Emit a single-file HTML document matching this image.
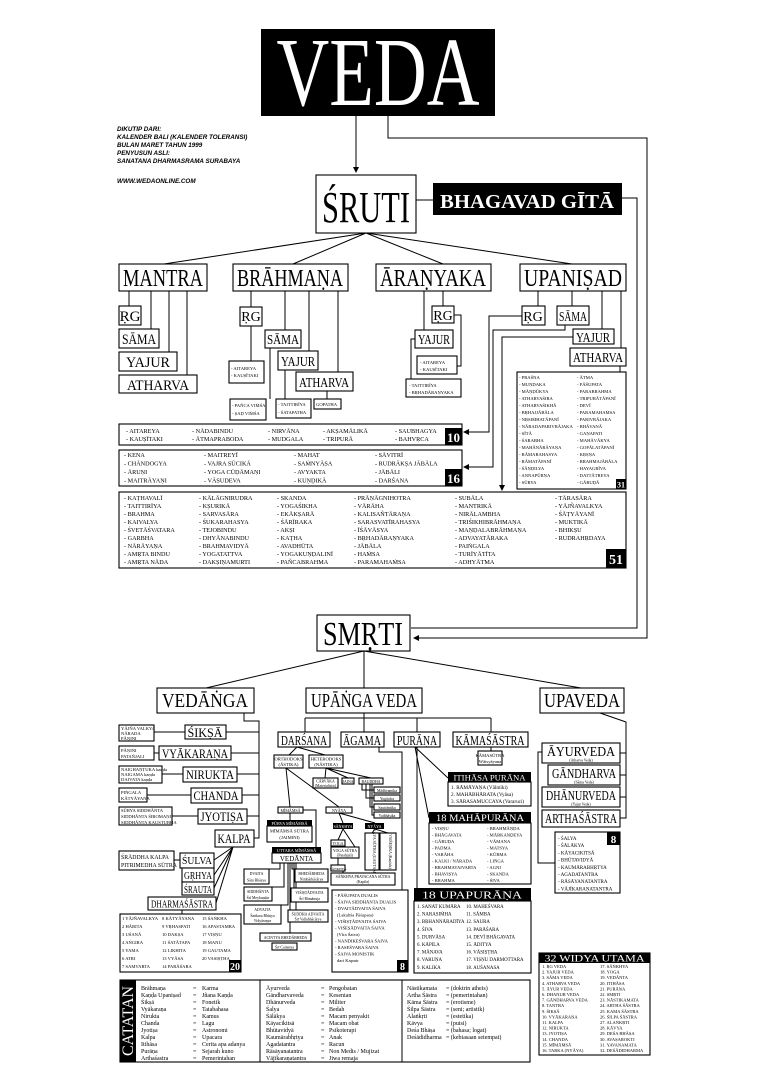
<!DOCTYPE html>
<html><head><meta charset="utf-8">
<style>
html,body{margin:0;padding:0;background:#fff;}
svg{display:block;font-family:"Liberation Serif",serif;}
.bx{fill:#fff;stroke:#000;stroke-width:1.1}
.bk{fill:#000}
.ln{stroke:#000;stroke-width:1;fill:none}
.s{font-size:6.2px}
.xs{font-size:4.6px}
.w{fill:#fff}
</style></head><body>
<svg width="768" height="1087" viewBox="0 0 768 1087" xmlns="http://www.w3.org/2000/svg">
<defs><marker id="a" markerWidth="6" markerHeight="6" refX="5" refY="3" orient="auto"><path d="M0,0L6,3L0,6z"/></marker></defs>

<!-- VEDA -->
<rect x="261" y="29" width="234" height="87" class="bk"/>
<text x="378" y="105" font-size="98" class="w" text-anchor="middle" textLength="203" lengthAdjust="spacingAndGlyphs">VEDA</text>
<g font-family="Liberation Sans" font-weight="bold" font-style="italic" font-size="6.3">
<text x="117" y="131">DIKUTIP DARI:</text>
<text x="117" y="139">KALENDER BALI (KALENDER TOLERANSI)</text>
<text x="117" y="147">BULAN MARET TAHUN 1999</text>
<text x="117" y="155">PENYUSUN ASLI:</text>
<text x="117" y="163">SANATANA DHARMASRAMA SURABAYA</text>
<text x="117" y="183">WWW.WEDAONLINE.COM</text>
</g>
<path class="ln" stroke-width="1.5" d="M356,116V172" marker-end="url(#a)"/>
<path class="ln" stroke-width="1.5" d="M388,116V138H647V638H414" marker-end="url(#a)"/>
<path class="ln" stroke-width="1" d="M622,198H637V628H411"/>

<!-- SRUTI -->
<rect x="316" y="175" width="100" height="58" class="bx"/>
<text x="366" y="222" font-size="44" text-anchor="middle" textLength="88" lengthAdjust="spacingAndGlyphs">ŚRUTI</text>
<path class="ln" d="M416,200H433"/>
<rect x="433" y="183" width="189" height="32" class="bk"/>
<text x="527" y="208" font-size="20" font-weight="bold" class="w" text-anchor="middle" textLength="174" lengthAdjust="spacingAndGlyphs">BHAGAVAD GĪTĀ</text>
<path class="ln" d="M366,233L164,264M366,233L293,264M366,233L443,264M366,233L572,264"/>

<!-- level 1 -->
<g font-size="24">
<rect x="119" y="264" width="88" height="27" class="bx"/><text x="163" y="286" text-anchor="middle" textLength="80" lengthAdjust="spacingAndGlyphs">MANTRA</text>
<rect x="233" y="264" width="115" height="27" class="bx"/><text x="290" y="286" text-anchor="middle" textLength="106" lengthAdjust="spacingAndGlyphs">BRĀHMAṆA</text>
<rect x="376" y="264" width="115" height="27" class="bx"/><text x="433" y="286" text-anchor="middle" textLength="106" lengthAdjust="spacingAndGlyphs">ĀRAṆYAKA</text>
<rect x="520" y="264" width="106" height="27" class="bx"/><text x="573" y="286" text-anchor="middle" textLength="98" lengthAdjust="spacingAndGlyphs">UPANIṢAD</text>
</g>

<!-- mantra -->
<path class="ln" d="M129,291V306M151,291V329M169,291V352M187,291V375"/>
<g font-size="15">
<rect x="119" y="306" width="22" height="19" class="bx"/><text x="130" y="321" text-anchor="middle">ṚG</text>
<rect x="119" y="329" width="40" height="19" class="bx"/><text x="139" y="344" text-anchor="middle" textLength="34" lengthAdjust="spacingAndGlyphs">SĀMA</text>
<rect x="119" y="352" width="58" height="19" class="bx"/><text x="148" y="367" text-anchor="middle" textLength="44" lengthAdjust="spacingAndGlyphs">YAJUR</text>
<rect x="119" y="375" width="78" height="18" class="bx"/><text x="158" y="390" text-anchor="middle" textLength="62" lengthAdjust="spacingAndGlyphs">ATHARVA</text>
</g>

<!-- brahmana -->
<path class="ln" d="M251,291V307M285,291V330M309,291V351M338,291V372M251,326V361M270,348V399M285,370V399M327,391V399"/>
<g font-size="14">
<rect x="240" y="307" width="22" height="19" class="bx"/><text x="251" y="321" text-anchor="middle">ṚG</text>
<rect x="265" y="330" width="36" height="18" class="bx"/><text x="283" y="344" text-anchor="middle" textLength="32" lengthAdjust="spacingAndGlyphs">SĀMA</text>
<rect x="278" y="351" width="40" height="19" class="bx"/><text x="298" y="366" text-anchor="middle" textLength="34" lengthAdjust="spacingAndGlyphs">YAJUR</text>
<rect x="296" y="372" width="57" height="19" class="bx"/><text x="324" y="387" text-anchor="middle" textLength="50" lengthAdjust="spacingAndGlyphs">ATHARVA</text>
</g>
<g class="xs">
<rect x="229" y="361" width="35" height="22" class="bx"/><text x="231" y="370">- AITAREYA</text><text x="231" y="377">- KAUṢĪTAKI</text>
<rect x="230" y="399" width="36" height="21" class="bx"/><text x="232" y="407">- PAÑCA VIṀŚA</text><text x="232" y="415">- ṢAḌ VIṀŚA</text>
<rect x="276" y="399" width="35" height="19" class="bx"/><text x="278" y="406">- TAITTIRĪYA</text><text x="278" y="414">- ŚATAPATHA</text>
<rect x="314" y="399" width="27" height="10" class="bx"/><text x="316" y="406">GOPATHA</text>
</g>

<!-- aranyaka -->
<path class="ln" d="M443,291V306M424,291V330M454,315H461V366H457M415,339H411V379"/>
<g font-size="14">
<rect x="432" y="306" width="22" height="17" class="bx"/><text x="443" y="320" text-anchor="middle">ṚG</text>
<rect x="415" y="330" width="38" height="18" class="bx"/><text x="434" y="344" text-anchor="middle" textLength="32" lengthAdjust="spacingAndGlyphs">YAJUR</text>
</g>
<g class="xs">
<rect x="417" y="356" width="40" height="18" class="bx"/><text x="420" y="364">- AITAREYA</text><text x="420" y="371">- KAUṢĪTAKI</text>
<rect x="406" y="379" width="55" height="18" class="bx"/><text x="409" y="387">- TAITTIRĪYA</text><text x="409" y="394">- BṚHADĀRAṆYAKA</text>
</g>

<!-- upanisad -->
<path class="ln" d="M538,291V306M572,291V306M602,291V329M621,291V348M620,366V372"/>
<g font-size="14">
<rect x="522" y="306" width="23" height="19" class="bx"/><text x="533" y="321" text-anchor="middle">ṚG</text>
<rect x="557" y="306" width="32" height="19" class="bx"/><text x="573" y="321" text-anchor="middle" textLength="28" lengthAdjust="spacingAndGlyphs">SĀMA</text>
<rect x="573" y="329" width="41" height="15" class="bx"/><text x="593" y="342" text-anchor="middle" textLength="34" lengthAdjust="spacingAndGlyphs">YAJUR</text>
<rect x="570" y="348" width="56" height="18" class="bx"/><text x="598" y="362" text-anchor="middle" textLength="50" lengthAdjust="spacingAndGlyphs">ATHARVA</text>
</g>
<path class="ln" d="M522,316H489V432H464" marker-end="url(#a)"/>
<path class="ln" d="M565,325V330H493V467H464" marker-end="url(#a)"/>
<path class="ln" d="M573,337H502V490" marker-end="url(#a)"/>

<!-- 31 box -->
<rect x="517" y="372" width="109" height="117" class="bx"/>
<g class="xs">
<text x="519" y="379">- PRAŚNA</text><text x="519" y="386">- MUṆḌAKA</text><text x="519" y="393">- MĀṆḌŪKYA</text><text x="519" y="400">- ATHARVAŚIRA</text><text x="519" y="407">- ATHARVAŚIKHĀ</text><text x="519" y="414">- BṚHAJJĀBĀLA</text><text x="519" y="421">- NṚSIṀHATĀPANĪ</text><text x="519" y="428">- NĀRADAPARIVRĀJAKA</text><text x="519" y="435">- SĪTĀ</text><text x="519" y="442">- ŚARABHA</text><text x="519" y="449">- MAHĀNĀRĀYAṆA</text><text x="519" y="456">- RĀMARAHASYA</text><text x="519" y="463">- RĀMATĀPANĪ</text><text x="519" y="470">- ŚĀṆḌILYA</text><text x="519" y="477">- ANNAPŪRṆA</text><text x="519" y="484">- SŪRYA</text>
<text x="577" y="379">- ĀTMA</text><text x="577" y="386">- PĀŚUPATA</text><text x="577" y="393">- PARABRAHMA</text><text x="577" y="400">- TRIPURĀTĀPANĪ</text><text x="577" y="407">- DEVĪ</text><text x="577" y="414">- PARAMAHAṀSA</text><text x="577" y="421">- PARIVRĀJAKA</text><text x="577" y="428">- BHĀVANĀ</text><text x="577" y="435">- GAṆAPATI</text><text x="577" y="442">- MAHĀVĀKYA</text><text x="577" y="449">- GOPĀLATĀPANĪ</text><text x="577" y="456">- KṚṢṆA</text><text x="577" y="463">- BRAHMAJĀBĀLA</text><text x="577" y="470">- HAYAGRĪVA</text><text x="577" y="477">- DATTĀTREYA</text><text x="577" y="484">- GĀRUḌĀ</text>
</g>
<rect x="616" y="479" width="10" height="10" class="bk"/><text x="621" y="487.5" font-size="8" font-weight="bold" class="w" text-anchor="middle">31</text>

<!-- 10 box -->
<rect x="119" y="424" width="343" height="21" class="bx"/>
<g class="s">
<text x="126" y="433">- AITAREYA</text><text x="126" y="441">- KAUṢĪTAKI</text>
<text x="192" y="433">- NĀDABINDU</text><text x="192" y="441">- ĀTMAPRABODA</text>
<text x="268" y="433">- NIRVĀNA</text><text x="268" y="441">- MUDGALA</text>
<text x="323" y="433">- AKṢAMĀLIKĀ</text><text x="323" y="441">- TRIPURĀ</text>
<text x="395" y="433">- SAUBHAGYA</text><text x="395" y="441">- BAHVṚCA</text>
</g>
<rect x="445" y="428" width="17" height="17" class="bk"/><text x="453.5" y="442" font-size="13" font-weight="bold" class="w" text-anchor="middle">10</text>

<!-- 16 box -->
<rect x="119" y="450" width="343" height="36" class="bx"/>
<g class="s">
<text x="124" y="457">- KENA</text><text x="124" y="465.5">- CHĀNDOGYA</text><text x="124" y="474">- ĀRUṆI</text><text x="124" y="482.5">- MAITRĀYAṆI</text>
<text x="204" y="457">- MAITREYĪ</text><text x="204" y="465.5">- VAJRA SŪCIKĀ</text><text x="204" y="474">- YOGA CŪḌĀMAṆI</text><text x="204" y="482.5">- VĀSUDEVA</text>
<text x="294" y="457">- MAHAT</text><text x="294" y="465.5">- SAṀNYĀSA</text><text x="294" y="474">- AVYAKTA</text><text x="294" y="482.5">- KUṆḌIKĀ</text>
<text x="375" y="457">- SĀVITRĪ</text><text x="375" y="465.5">- RUDRĀKṢA JĀBĀLA</text><text x="375" y="474">- JĀBĀLI</text><text x="375" y="482.5">- DARŚANA</text>
</g>
<rect x="445" y="469" width="17" height="17" class="bk"/><text x="453.5" y="483" font-size="13" font-weight="bold" class="w" text-anchor="middle">16</text>

<!-- 51 box -->
<rect x="119" y="492" width="507" height="76" class="bx"/>
<g class="s">
<text x="124" y="500">- KAṬHAVALĪ</text><text x="124" y="508">- TAITTIRĪYA</text><text x="124" y="516">- BRAHMA</text><text x="124" y="524">- KAIVALYA</text><text x="124" y="532">- ŚVETĀŚVATARA</text><text x="124" y="540">- GARBHA</text><text x="124" y="548">- NĀRĀYAṆA</text><text x="124" y="556">- AMṚTA BINDU</text><text x="124" y="564">- AMṚTA NĀDA</text>
<text x="199" y="500">- KĀLĀGNIRUDRA</text><text x="199" y="508">- KṢURIKĀ</text><text x="199" y="516">- SARVASĀRA</text><text x="199" y="524">- ŚUKARAHASYA</text><text x="199" y="532">- TEJOBINDU</text><text x="199" y="540">- DHYĀNABINDU</text><text x="199" y="548">- BRAHMAVIDYĀ</text><text x="199" y="556">- YOGATATTVA</text><text x="199" y="564">- DAKṢIṆAMURTI</text>
<text x="277" y="500">- SKANDA</text><text x="277" y="508">- YOGAŚIKHA</text><text x="277" y="516">- EKĀKṢARĀ</text><text x="277" y="524">- ŚĀRĪRAKA</text><text x="277" y="532">- AKṢI</text><text x="277" y="540">- KAṬHA</text><text x="277" y="548">- AVADHŪTA</text><text x="277" y="556">- YOGAKUṆḌALINĪ</text><text x="277" y="564">- PAÑCABRAHMA</text>
<text x="354" y="500">- PRĀṆĀGNIHOTRA</text><text x="354" y="508">- VĀRĀHA</text><text x="354" y="516">- KALISAÑTĀRAṆA</text><text x="354" y="524">- SARASVATĪRAHASYA</text><text x="354" y="532">- ĪŚĀVĀSYA</text><text x="354" y="540">- BṚHADĀRAṆYAKA</text><text x="354" y="548">- JĀBĀLA</text><text x="354" y="556">- HAṀSA</text><text x="354" y="564">- PARAMAHAṀSA</text>
<text x="455" y="500">- SUBĀLA</text><text x="455" y="508">- MANTRIKĀ</text><text x="455" y="516">- NIRĀLAMBHA</text><text x="455" y="524">- TRIŚIKHIBRĀHMAṆA</text><text x="455" y="532">- MAṆḌALABRĀHMAṆA</text><text x="455" y="540">- ADVAYATĀRAKA</text><text x="455" y="548">- PAIṄGALA</text><text x="455" y="556">- TURĪYĀTĪTA</text><text x="455" y="564">- ADHYĀTMA</text>
<text x="555" y="500">- TĀRASĀRA</text><text x="555" y="508">- YĀJÑAVALKYA</text><text x="555" y="516">- ŚĀṬYĀYANĪ</text><text x="555" y="524">- MUKTIKĀ</text><text x="555" y="532">- BHIKṢU</text><text x="555" y="540">- RUDRAHṚDAYA</text>
</g>
<rect x="606" y="549" width="20" height="19" class="bk"/><text x="616" y="564" font-size="14" font-weight="bold" class="w" text-anchor="middle">51</text>

<!-- SMRTI -->
<rect x="317" y="615" width="93" height="36" class="bx"/>
<text x="363" y="645" font-size="34" text-anchor="middle" textLength="80" lengthAdjust="spacingAndGlyphs">SMṚTI</text>
<path class="ln" d="M364,651L206,688M364,651V688M364,651L581,688"/>
<g font-size="20">
<rect x="157" y="688" width="97" height="25" class="bx"/><text x="205" y="707" text-anchor="middle" textLength="86" lengthAdjust="spacingAndGlyphs">VEDĀṄGA</text>
<rect x="306" y="688" width="116" height="25" class="bx"/><text x="364" y="707" text-anchor="middle" textLength="106" lengthAdjust="spacingAndGlyphs">UPĀṄGA VEDA</text>
<rect x="540" y="688" width="84" height="25" class="bx"/><text x="582" y="707" text-anchor="middle" textLength="76" lengthAdjust="spacingAndGlyphs">UPAVEDA</text>
</g>

<!-- vedanga -->
<path class="ln" d="M244,713V721H259V838H254M259,732H226M259,753H231M259,774H237M259,795H242M259,816H247"/>
<path class="ln" d="M154,732H185M154,753H159M162,774H183M147,795H191M172,816H198M174,860H180"/>
<path class="ln" d="M233,847L214,860M233,847L214,875M233,847L214,888M233,847L216,903M182,910V914"/>
<g font-size="13">
<rect x="185" y="725" width="41" height="14" class="bx"/><text x="205" y="737" text-anchor="middle" textLength="35" lengthAdjust="spacingAndGlyphs">ŚIKṢĀ</text>
<rect x="159" y="746" width="72" height="14" class="bx"/><text x="195" y="758" text-anchor="middle" textLength="66" lengthAdjust="spacingAndGlyphs">VYĀKARAṆA</text>
<rect x="183" y="767" width="54" height="15" class="bx"/><text x="210" y="779" text-anchor="middle" textLength="48" lengthAdjust="spacingAndGlyphs">NIRUKTA</text>
<rect x="191" y="788" width="51" height="15" class="bx"/><text x="216" y="800" text-anchor="middle" textLength="45" lengthAdjust="spacingAndGlyphs">CHANDA</text>
<rect x="198" y="809" width="49" height="15" class="bx"/><text x="222" y="821" text-anchor="middle" textLength="43" lengthAdjust="spacingAndGlyphs">JYOTIṢA</text>
<rect x="215" y="830" width="39" height="17" class="bx"/><text x="234" y="843" text-anchor="middle" textLength="33" lengthAdjust="spacingAndGlyphs">KALPA</text>
</g>
<g font-size="11">
<rect x="180" y="853" width="34" height="15" class="bx"/><text x="197" y="864" text-anchor="middle" textLength="30" lengthAdjust="spacingAndGlyphs">ŚULVA</text>
<rect x="182" y="868" width="32" height="14" class="bx"/><text x="198" y="879" text-anchor="middle" textLength="28" lengthAdjust="spacingAndGlyphs">GṚHYA</text>
<rect x="182" y="882" width="32" height="13" class="bx"/><text x="198" y="893" text-anchor="middle" textLength="28" lengthAdjust="spacingAndGlyphs">ŚRAUTA</text>
<rect x="148" y="897" width="68" height="13" class="bx"/><text x="182" y="907.5" text-anchor="middle" textLength="62" lengthAdjust="spacingAndGlyphs">DHARMAŚĀSTRA</text>
</g>
<g class="xs">
<rect x="119" y="725" width="35" height="16" class="bx"/><text x="121" y="730">YĀJÑA VALKYA</text><text x="121" y="735">NĀRADA</text><text x="121" y="740">PĀṆINI</text>
<rect x="119" y="746" width="35" height="14" class="bx"/><text x="121" y="752">PĀṆINI</text><text x="121" y="758">PATAÑJALI</text>
<rect x="119" y="766" width="43" height="17" class="bx"/><text x="121" y="771">NAIGHAṆṬUKA kaṇḍa</text><text x="121" y="776">NAIGAMA kaṇḍa</text><text x="121" y="781">DAIVATA kaṇḍa</text>
<rect x="119" y="788" width="28" height="14" class="bx"/><text x="121" y="794">PIṄGALA</text><text x="121" y="800">KĀTYĀYANA</text>
<rect x="119" y="807" width="53" height="18" class="bx"/><text x="121" y="812">SŪRYA SIDDHĀNTA</text><text x="121" y="818">SIDDHĀNTA ŚIROMAṆI</text><text x="121" y="824">SIDDHĀNTA KAUSTUBHA</text>
</g>
<rect x="119" y="851" width="55" height="19" class="bx"/>
<text x="121" y="859" font-size="5.8">ŚRĀDDHA KALPA</text><text x="121" y="867" font-size="5.8">PITRIMEDHA SŪTRA</text>

<!-- 20 box -->
<rect x="120" y="914" width="121" height="58" class="bx"/>
<g class="xs">
<text x="122" y="920">1 YĀJÑAVALKYA</text><text x="122" y="928">2 HĀRITA</text><text x="122" y="936">3 UŚANĀ</text><text x="122" y="944">4 AṄGIRA</text><text x="122" y="952">5 YAMA</text><text x="122" y="960">6 ATRI</text><text x="122" y="968">7 SAMVARTA</text>
<text x="162" y="920">8 KĀTYĀYANA</text><text x="162" y="928">9 VṚHASPATI</text><text x="162" y="936">10 DAKṢA</text><text x="162" y="944">11 ŚATĀTAPA</text><text x="162" y="952">12 LIKHITA</text><text x="162" y="960">13 VYĀSA</text><text x="162" y="968">14 PARĀŚARA</text>
<text x="202" y="920">15 ŚAṄKHA</text><text x="202" y="928">16 APASTAMBA</text><text x="202" y="936">17 VIṢṆU</text><text x="202" y="944">18 MANU</text><text x="202" y="952">19 GAUTAMA</text><text x="202" y="960">20 VASIṢṬHA</text>
</g>
<rect x="229" y="960" width="12" height="12" class="bk"/><text x="235" y="970" font-size="10" font-weight="bold" class="w" text-anchor="middle">20</text>

<!-- upanga -->
<path class="ln" d="M364,713V718M305,718H491M305,718V732M364,718V732M417,718V732M491,718V732"/>
<g font-size="14">
<rect x="278" y="732" width="52" height="15" class="bx"/><text x="304" y="745" text-anchor="middle" textLength="46" lengthAdjust="spacingAndGlyphs">DARŚANA</text>
<rect x="341" y="732" width="43" height="15" class="bx"/><text x="362" y="745" text-anchor="middle" textLength="38" lengthAdjust="spacingAndGlyphs">ĀGAMA</text>
<rect x="394" y="732" width="46" height="15" class="bx"/><text x="417" y="745" text-anchor="middle" textLength="40" lengthAdjust="spacingAndGlyphs">PURĀṆA</text>
<rect x="453" y="732" width="75" height="15" class="bx"/><text x="490" y="745" text-anchor="middle" textLength="69" lengthAdjust="spacingAndGlyphs">KĀMAŚĀSTRA</text>
</g>
<path class="ln" d="M491,747V751M379,747V752H402V890M415,747L448,778M415,747L429,818M417,747V888"/>
<rect x="478" y="751" width="24" height="14" class="bx"/>
<text x="490" y="757" class="xs" text-anchor="middle">KĀMASŪTRA</text><text x="490" y="763" class="xs" text-anchor="middle">Wātsyāyana</text>

<!-- itihasa -->
<rect x="448" y="772" width="83" height="10" class="bk"/><text x="489.5" y="780.5" font-size="8" class="w" text-anchor="middle" textLength="72" lengthAdjust="spacingAndGlyphs">ITIHĀSA PURĀṆA</text>
<rect x="448" y="782" width="83" height="24" class="bx"/>
<g font-size="5.2"><text x="451" y="789">1. RĀMĀYAṆA (Vālmīki)</text><text x="451" y="796">2. MAHĀBHĀRATA (Vyāsa)</text><text x="451" y="803">3. SĀRASAMUCCAYA (Vararuci)</text></g>
<!-- mahapurana -->
<rect x="429" y="812" width="102" height="11" class="bk"/><text x="480" y="821" font-size="9" class="w" text-anchor="middle" textLength="88" lengthAdjust="spacingAndGlyphs">18 MAHĀPURĀṆA</text>
<rect x="429" y="823" width="102" height="61" class="bx"/>
<g class="xs">
<text x="432" y="830">- VIṢṆU</text><text x="432" y="836.5">- BHĀGAVATA</text><text x="432" y="843">- GĀRUḌA</text><text x="432" y="849.5">- PADMA</text><text x="432" y="856">- VARĀHA</text><text x="432" y="862.5">- KALKI / NĀRADA</text><text x="432" y="869">- BRAHMAVAIVARTA</text><text x="432" y="875.5">- BHAVIṢYA</text><text x="432" y="882">- BRAHMA</text>
<text x="487" y="830">- BRAHMĀṆḌA</text><text x="487" y="836.5">- MĀRKAṆḌEYA</text><text x="487" y="843">- VĀMANA</text><text x="487" y="849.5">- MATSYA</text><text x="487" y="856">- KŪRMA</text><text x="487" y="862.5">- LIṄGA</text><text x="487" y="869">- AGNI</text><text x="487" y="875.5">- SKANDA</text><text x="487" y="882">- ŚIVA</text>
</g>
<!-- upapurana -->
<rect x="414" y="888" width="117" height="13" class="bk"/><text x="472" y="898.5" font-size="10" class="w" text-anchor="middle" textLength="100" lengthAdjust="spacingAndGlyphs">18 UPAPURĀṆA</text>
<rect x="414" y="901" width="117" height="72" class="bx"/>
<g font-size="4.9">
<text x="417" y="908">1. SANAT KUMĀRA</text><text x="417" y="915.6">2. NARASIṀHA</text><text x="417" y="923.2">3. BṚHANNĀRADĪYA</text><text x="417" y="930.8">4. ŚIVA</text><text x="417" y="938.4">5. DURVĀSA</text><text x="417" y="946">6. KĀPILA</text><text x="417" y="953.6">7. MĀNAVA</text><text x="417" y="961.2">8. VARUṆA</text><text x="417" y="968.8">9. KALIKA</text>
<text x="466" y="908">10. MAHEŚVARA</text><text x="466" y="915.6">11. SĀMBA</text><text x="466" y="923.2">12. SAURA</text><text x="466" y="930.8">13. PARĀŚARA</text><text x="466" y="938.4">14. DEVĪ BHĀGAVATA</text><text x="466" y="946">15. ĀDITYA</text><text x="466" y="953.6">16. VĀSIṢṬHA</text><text x="466" y="961.2">17. VIṢṆU DARMOTTARA</text><text x="466" y="968.8">18. AUŚANASA</text>
</g>

<!-- agama 8 box -->
<rect x="332" y="890" width="76" height="82" class="bx"/>
<g class="xs">
<text x="335" y="897">- PĀŚUPATA DUALIS</text><text x="335" y="903.5">- ŚAIVA SIDDHĀNTA DUALIS</text><text x="335" y="910">- DVAITĀDVAITA ŚAIVA</text><text x="337" y="916.5">(Lakulīśa Pāśupata)</text><text x="335" y="923">- VIŚIṢṬĀDVAITA ŚAIVA</text><text x="335" y="929.5">- VIŚEṢĀDVAITA ŚAIVA</text><text x="337" y="936">(Vīra Śaiva)</text><text x="335" y="942.5">- NANDIKEŚVARA ŚAIVA</text><text x="335" y="949">- RASEŚVARA ŚAIVA</text><text x="335" y="955.5">- ŚAIVA MONISTIK</text><text x="337" y="962">dari Kaşmir</text>
</g>
<rect x="397" y="960" width="11" height="12" class="bk"/><text x="402.5" y="970" font-size="10" font-weight="bold" class="w" text-anchor="middle">8</text>

<!-- darsana subtree -->
<path class="ln" d="M297,747L289,755M297,747L325,755M326,768L325,778M326,768L348,778M326,768L371,778M362,784V790H374M366,784V798H374M370,784V807H374M372,784V815H374"/>
<path class="ln" d="M286,768L290,807M286,768L339,807M290,813V820M303,810H316V847M339,813L343,823M339,813L375,823M343,829L338,840M343,829L355,847M375,829L372,833M375,829L388,833M338,858V865M343,871V873M280,863V869H269M284,863V887H272M288,863V905H281M292,863V869H295M294,863V888H291M296,863V910H288M290,863V933"/>
<g class="xs">
<rect x="274" y="755" width="29" height="13" class="bx"/><text x="288.5" y="760.5" text-anchor="middle">ORTHODOKS</text><text x="288.5" y="766" text-anchor="middle">(ĀSTIKA)</text>
<rect x="309" y="755" width="34" height="13" class="bx"/><text x="326" y="760.5" text-anchor="middle">HETERODOKS</text><text x="326" y="766" text-anchor="middle">(NĀSTIKA)</text>
<rect x="313" y="778" width="25" height="10" class="bx"/><text x="325.5" y="782.5" text-anchor="middle" font-size="3.8">CĀRVĀKA</text><text x="325.5" y="787" text-anchor="middle" font-size="3.8">(Materialistis)</text>
<rect x="342" y="778" width="12" height="6" class="bx"/><text x="348" y="783" text-anchor="middle" font-size="3.8">JAINA</text>
<rect x="359" y="778" width="24" height="6" class="bx"/><text x="371" y="783" text-anchor="middle" font-size="3.8">BAUDDHA</text>
<g font-size="3.8">
<rect x="374" y="787" width="26" height="6" class="bx"/><text x="387" y="792" text-anchor="middle">Mādhyamika</text>
<rect x="374" y="795" width="26" height="6" class="bx"/><text x="387" y="800" text-anchor="middle">Yogācāra</text>
<rect x="374" y="804" width="26" height="6" class="bx"/><text x="387" y="809" text-anchor="middle">Sautrāntika</text>
<rect x="374" y="812" width="26" height="6" class="bx"/><text x="387" y="817" text-anchor="middle">Vaibhāṣika</text>
</g>
<rect x="278" y="807" width="25" height="6" class="bx"/><text x="290.5" y="812" text-anchor="middle" font-size="4">MĪMĀṀSĀ</text>
<rect x="326" y="807" width="26" height="6" class="bx"/><text x="339" y="812" text-anchor="middle" font-size="4">NYĀYA</text>
<rect x="267" y="820" width="45" height="6" class="bk"/><text x="289.5" y="825" text-anchor="middle" class="w" font-size="4.3">PŪRVA MĪMĀṀSĀ</text>
<rect x="267" y="826" width="45" height="16" class="bx"/><text x="289.5" y="832.5" text-anchor="middle">MĪMĀṀSĀ SŪTRA</text><text x="289.5" y="839" text-anchor="middle">(JAIMINI)</text>
<rect x="272" y="847" width="49" height="6" class="bk"/><text x="296.5" y="852" text-anchor="middle" class="w" font-size="4.3">UTTARA MĪMĀṀSĀ</text>
<rect x="272" y="853" width="49" height="10" class="bx"/><text x="296.5" y="861" text-anchor="middle" font-size="7">VEDĀNTA</text>
<rect x="333" y="823" width="20" height="6" class="bk"/><text x="343" y="828" text-anchor="middle" class="w" font-size="4">SĀṄKHYA</text>
<rect x="365" y="823" width="19" height="6" class="bk"/><text x="374.5" y="828" text-anchor="middle" class="w" font-size="4">NYĀYA</text>
<rect x="331" y="840" width="14" height="6" class="bx"/><text x="338" y="845" text-anchor="middle" font-size="3.8">YOGA</text>
<rect x="331" y="847" width="28" height="11" class="bx"/><text x="345" y="852" text-anchor="middle" font-size="3.8">YOGA SŪTRA</text><text x="345" y="856.5" text-anchor="middle" font-size="3.8">(Patañjali)</text>
<rect x="365" y="833" width="14" height="37" class="bx"/><text transform="translate(373,851.5) rotate(90)" text-anchor="middle" font-size="4">NYĀYA SŪTRA (GAUTAMA)</text>
<rect x="380" y="833" width="16" height="37" class="bx"/><text transform="translate(389,851.5) rotate(90)" text-anchor="middle" font-size="3.8">VAIŚEṢIKA (Kaṇāda)</text>
<rect x="331" y="865" width="14" height="6" class="bx"/><text x="338" y="870" text-anchor="middle" font-size="3.5">SĀṄKHYA</text>
<rect x="331" y="873" width="64" height="12" class="bx"/><text x="363" y="878" text-anchor="middle" font-size="3.8">SĀṄKHYA PRAVACANA SŪTRA</text><text x="363" y="883" text-anchor="middle" font-size="3.8">(Kapila)</text>
<g font-size="3.8">
<rect x="244" y="869" width="25" height="15" class="bx"/><text x="256.5" y="875" text-anchor="middle">DVAITA</text><text x="256.5" y="881.5" text-anchor="middle">Sātu Bhāṣya</text>
<rect x="244" y="887" width="28" height="14" class="bx"/><text x="258" y="893" text-anchor="middle">SIDDHĀNTA</text><text x="258" y="899" text-anchor="middle">Śrī Meykaṇḍar</text>
<rect x="244" y="905" width="37" height="19" class="bx"/><text x="262.5" y="911" text-anchor="middle">ADVAITA</text><text x="262.5" y="917" text-anchor="middle">Śaṅkara Bhāṣya</text><text x="262.5" y="922" text-anchor="middle">Vidyāraṇya</text>
<rect x="295" y="869" width="33" height="13" class="bx"/><text x="311.5" y="875" text-anchor="middle">BHEDĀBHEDA</text><text x="311.5" y="880.5" text-anchor="middle">Nimbārkācārya</text>
<rect x="291" y="888" width="37" height="14" class="bx"/><text x="309.5" y="894" text-anchor="middle">VIŚIṢṬĀDVAITA</text><text x="309.5" y="900" text-anchor="middle">Śrī Rāmānuja</text>
<rect x="288" y="910" width="40" height="12" class="bx"/><text x="308" y="915.5" text-anchor="middle">ŚUDDHA ADVAITA</text><text x="308" y="920.5" text-anchor="middle">Śrī Vallabhācārya</text>
<rect x="260" y="933" width="51" height="8" class="bx"/><text x="285.5" y="939" text-anchor="middle">ACINTYA BHEDĀBHEDA</text>
<rect x="272" y="943" width="25" height="7" class="bx"/><text x="284.5" y="948.5" text-anchor="middle">Śrī Caitanya</text>
</g>
</g>

<!-- upaveda -->
<path class="ln" d="M600,713L626,722V818H620M626,753H620M626,775H620M626,797H620M542,752H538V863H555"/>
<rect x="542" y="743" width="78" height="20" class="bx"/><text x="581" y="756" font-size="14" text-anchor="middle" textLength="68" lengthAdjust="spacingAndGlyphs">ĀYURVEDA</text><text x="581" y="761.5" font-size="3.8" text-anchor="middle">(Atharva Veda)</text>
<rect x="548" y="765" width="72" height="20" class="bx"/><text x="584" y="778" font-size="14" text-anchor="middle" textLength="64" lengthAdjust="spacingAndGlyphs">GĀNDHARVA</text><text x="584" y="783.5" font-size="3.8" text-anchor="middle">(Sāma Veda)</text>
<rect x="542" y="787" width="78" height="20" class="bx"/><text x="581" y="800" font-size="14" text-anchor="middle" textLength="70" lengthAdjust="spacingAndGlyphs">DHĀNURVEDA</text><text x="581" y="805.5" font-size="3.8" text-anchor="middle">(Yajur Veda)</text>
<rect x="542" y="810" width="78" height="17" class="bx"/><text x="581" y="823" font-size="14" text-anchor="middle" textLength="72" lengthAdjust="spacingAndGlyphs">ARTHAŚĀSTRA</text>
<rect x="555" y="832" width="65" height="61" class="bx"/>
<g font-size="5"><text x="558" y="840">- ŚALYA</text><text x="558" y="847.2">- ŚĀLĀKYA</text><text x="558" y="854.4">- KĀYACIKITSĀ</text><text x="558" y="861.6">- BHŪTAVIDYĀ</text><text x="558" y="868.8">- KAUMĀRABHṚTYA</text><text x="558" y="876">- AGADATANTRA</text><text x="558" y="883.2">- RĀSĀYANATANTRA</text><text x="558" y="890.4">- VĀJĪKARAṆATANTRA</text></g>
<rect x="607" y="832" width="13" height="13" class="bk"/><text x="613.5" y="843" font-size="11" font-weight="bold" class="w" text-anchor="middle">8</text>

<!-- CATATAN -->
<rect x="120" y="980" width="410" height="82" class="bx"/>
<rect x="120" y="980" width="16" height="82" class="bk"/>
<text transform="translate(133,1021) rotate(-90)" font-size="16" class="w" text-anchor="middle" textLength="70" lengthAdjust="spacingAndGlyphs">CATATAN</text>
<path class="ln" d="M260,980V1062M402,980V1062"/>
<g font-size="6">
<text x="141" y="990">Brāhmaṇa</text><text x="141" y="997">Kaṇḍa Upaniṣad</text><text x="141" y="1004">Śikṣā</text><text x="141" y="1011">Vyākaraṇa</text><text x="141" y="1018">Nirukta</text><text x="141" y="1025">Chanda</text><text x="141" y="1032">Jyotiṣa</text><text x="141" y="1039">Kalpa</text><text x="141" y="1046">Itihāsa</text><text x="141" y="1053">Purāṇa</text><text x="141" y="1060">Arthaśastra</text>
<g><text x="193" y="990">=</text><text x="193" y="997">=</text><text x="193" y="1004">=</text><text x="193" y="1011">=</text><text x="193" y="1018">=</text><text x="193" y="1025">=</text><text x="193" y="1032">=</text><text x="193" y="1039">=</text><text x="193" y="1046">=</text><text x="193" y="1053">=</text><text x="193" y="1060">=</text></g>
<text x="202" y="990">Karma</text><text x="202" y="997">Jñana Kaṇḍa</text><text x="202" y="1004">Fonetik</text><text x="202" y="1011">Tatabahasa</text><text x="202" y="1018">Kamus</text><text x="202" y="1025">Lagu</text><text x="202" y="1032">Astronomi</text><text x="202" y="1039">Upacara</text><text x="202" y="1046">Cerita apa adanya</text><text x="202" y="1053">Sejarah kuno</text><text x="202" y="1060">Pemerintahan</text>
<text x="266" y="990">Āyurveda</text><text x="266" y="997">Gāndharvaveda</text><text x="266" y="1004">Dhānurveda</text><text x="266" y="1011">Śalya</text><text x="266" y="1018">Śālākya</text><text x="266" y="1025">Kāyacikitsā</text><text x="266" y="1032">Bhūtavidyā</text><text x="266" y="1039">Kaumārabhṛtya</text><text x="266" y="1046">Agadatantra</text><text x="266" y="1053">Rāsāyanatantra</text><text x="266" y="1060">Vājīkaraṇatantra</text>
<g><text x="321" y="990">=</text><text x="321" y="997">=</text><text x="321" y="1004">=</text><text x="321" y="1011">=</text><text x="321" y="1018">=</text><text x="321" y="1025">=</text><text x="321" y="1032">=</text><text x="321" y="1039">=</text><text x="321" y="1046">=</text><text x="321" y="1053">=</text><text x="321" y="1060">=</text></g>
<text x="329" y="990">Pengobatan</text><text x="329" y="997">Kesenian</text><text x="329" y="1004">Militer</text><text x="329" y="1011">Bedah</text><text x="329" y="1018">Macam penyakit</text><text x="329" y="1025">Macam obat</text><text x="329" y="1032">Psikoterapi</text><text x="329" y="1039">Anak</text><text x="329" y="1046">Racun</text><text x="329" y="1053">Non Medis / Mujizat</text><text x="329" y="1060">Jiwa remaja</text>
<text x="407" y="990">Nāstikamata</text><text x="407" y="997">Artha Śāstra</text><text x="407" y="1004">Kāma Śāstra</text><text x="407" y="1011">Śilpa Śāstra</text><text x="407" y="1018">Alaṅkṛti</text><text x="407" y="1025">Kāvya</text><text x="407" y="1032">Deśa Bhāṣa</text><text x="407" y="1039">Deśādidharma</text>
<text x="446" y="990">= (doktrin atheis)</text><text x="446" y="997">= (pemerintahan)</text><text x="446" y="1004">= (erotisme)</text><text x="446" y="1011">= (seni; artistik)</text><text x="446" y="1018">= (estetika)</text><text x="446" y="1025">= (puisi)</text><text x="446" y="1032">= (bahasa; logat)</text><text x="446" y="1039">= (kebiasaan setempat)</text>
</g>

<!-- 32 WIDYA -->
<rect x="539" y="953" width="111" height="102" class="bx"/>
<rect x="539" y="953" width="111" height="10" class="bk"/>
<text x="594.5" y="961.5" font-size="9" class="w" text-anchor="middle" textLength="100" lengthAdjust="spacingAndGlyphs">32 WIDYA UTAMA</text>
<g font-size="4.5">
<text x="542" y="968">1. ṚG VEDA</text><text x="542" y="973.6">2. YAJUR VEDA</text><text x="542" y="979.2">3. SĀMA VEDA</text><text x="542" y="984.8">4. ATHARVA VEDA</text><text x="542" y="990.4">5. ĀYUR VEDA</text><text x="542" y="996">6. DHANUR VEDA</text><text x="542" y="1001.6">7. GĀNDHARVA VEDA</text><text x="542" y="1007.2">8. TANTRA</text><text x="542" y="1012.8">9. ŚIKṢĀ</text><text x="542" y="1018.4">10. VYĀKARAṆA</text><text x="542" y="1024">11. KALPA</text><text x="542" y="1029.6">12. NIRUKTA</text><text x="542" y="1035.2">13. JYOTIṢA</text><text x="542" y="1040.8">14. CHANDA</text><text x="542" y="1046.4">15. MĪMĀṀSĀ</text><text x="542" y="1052">16. TARKA (NYĀYA)</text>
<text x="600" y="968">17. SĀṄKHYA</text><text x="600" y="973.6">18. YOGA</text><text x="600" y="979.2">19. VEDĀNTA</text><text x="600" y="984.8">20. ITIHĀSA</text><text x="600" y="990.4">21. PURĀṆA</text><text x="600" y="996">22. SMṚTI</text><text x="600" y="1001.6">23. NĀSTIKAMATA</text><text x="600" y="1007.2">24. ARTHA ŚĀSTRA</text><text x="600" y="1012.8">25. KAMA ŚĀSTRA</text><text x="600" y="1018.4">26. ŚILPA ŚĀSTRA</text><text x="600" y="1024">27. ALAṄKṚTI</text><text x="600" y="1029.6">28. KĀVYA</text><text x="600" y="1035.2">29. DEŚA BHĀṢA</text><text x="600" y="1040.8">30. AVAṢAROKTI</text><text x="600" y="1046.4">31. YAVANAMATA</text><text x="600" y="1052">32. DEŚĀDIDHARMA</text>
</g>
</svg>
</body></html>
